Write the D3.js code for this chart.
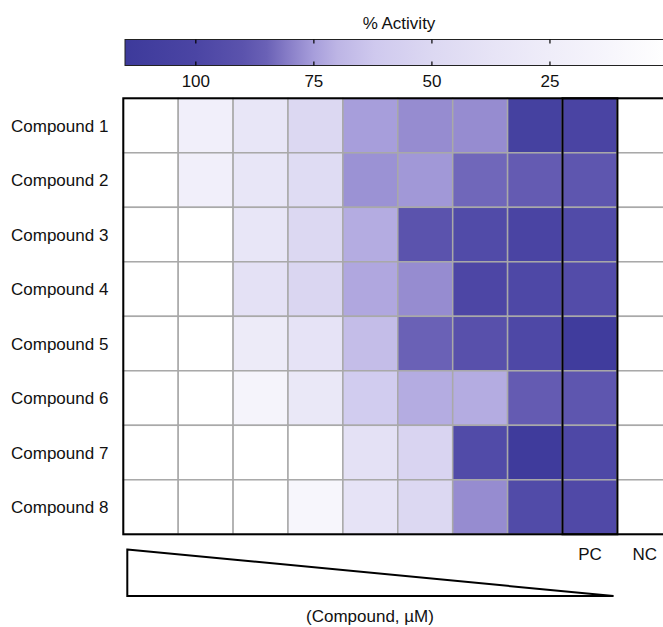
<!DOCTYPE html>
<html>
<head>
<meta charset="utf-8">
<script src="https://cdn.jsdelivr.net/npm/d3@7"></script>
<style>
  body { margin: 0; background: #fff; }
  svg { display: block; font-family: "Liberation Sans", Arial, Helvetica, sans-serif; }
</style>
</head>
<body>
<div id="chart"></div>
<script>
// rows and columns of the plate
const compounds = ['Compound 1', 'Compound 2', 'Compound 3', 'Compound 4',
                   'Compound 5', 'Compound 6', 'Compound 7', 'Compound 8'];
const columns = ['c1', 'c2', 'c3', 'c4', 'c5', 'c6', 'c7', 'c8', 'PC', 'NC'];
const columnLabels = ['', '', '', '', '', '', '', '', 'PC', 'NC'];

// % activity, one array per compound (dilution series, then PC, NC)
const activity1 = [0, 22, 35, 50, 75, 78, 78, 106, 101, 0];
const activity2 = [0, 22, 35, 46, 77, 76, 84, 87, 89, 0];
const activity3 = [0, 0, 35, 50, 72, 90, 96, 101, 96, 0];
const activity4 = [0, 0, 40, 52, 73, 78, 99, 98, 95, 0];
const activity5 = [0, 0, 28, 38, 67, 85, 92, 98, 112, 0];
const activity6 = [0, 0, 15, 32, 60, 72, 72, 87, 89, 0];
const activity7 = [0, 0, 0, 0, 40, 53, 96, 113, 98, 0];
const activity8 = [0, 0, 0, 12, 38, 50, 78, 96, 97, 0];
const activityRows = [activity1, activity2, activity3, activity4,
                      activity5, activity6, activity7, activity8];

// colour bar
const colorStops = [0, 12, 25, 37, 50, 62, 70, 75, 80, 85, 90, 100, 115];
const colorValues = ['#ffffff', '#f7f6fc', '#efedf9', '#e7e4f6', '#dcd8f2', '#cfc9ee',
                     '#bdb5e5', '#a79edb', '#8a80c9', '#6a61b6', '#5b53ad', '#4b45a4', '#3d3a9b'];
const colorTicks = [100, 75, 50, 25];
const colorDomain = [115, 0];

const WIDTH = 663, HEIGHT = 627;
const FONT = 17;

const svg = d3.select('#chart').append('svg')
    .attr('width', WIDTH)
    .attr('height', HEIGHT);

const color = d3.scaleLinear()
    .domain(colorStops)
    .range(colorValues)
    .clamp(true);

// ---- colour bar on top
const bar = { left: 125, right: 668, top: 39.5, bottom: 65.5 };
const cbX = d3.scaleLinear().domain(colorDomain).range([bar.left, bar.right]);

// stops have to go left to right, i.e. from high to low activity
const gradStops = colorStops.slice().sort((a, b) => cbX(a) - cbX(b));
const grad = svg.append('defs').append('linearGradient')
    .attr('id', 'cbar')
    .attr('gradientUnits', 'userSpaceOnUse')
    .attr('x1', bar.left).attr('x2', bar.right)
    .attr('y1', 0).attr('y2', 0);
grad.selectAll('stop')
    .data(gradStops)
    .join('stop')
    .attr('offset', d => (cbX(d) - bar.left) / (bar.right - bar.left))
    .attr('stop-color', d => color(d));

svg.append('rect')
    .attr('x', bar.left)
    .attr('y', bar.top)
    .attr('width', bar.right - bar.left)
    .attr('height', bar.bottom - bar.top)
    .attr('fill', 'url(#cbar)')
    .attr('stroke', '#222')
    .attr('stroke-width', 1);

const cbTicks = svg.append('g').attr('class', 'cb-ticks');
cbTicks.selectAll('line.top')
    .data(colorTicks)
    .join('line')
    .attr('class', 'top')
    .attr('x1', d => cbX(d)).attr('x2', d => cbX(d))
    .attr('y1', bar.top).attr('y2', bar.top + 4)
    .attr('stroke', '#000').attr('stroke-width', 1.2);
cbTicks.selectAll('line.bottom')
    .data(colorTicks)
    .join('line')
    .attr('class', 'bottom')
    .attr('x1', d => cbX(d)).attr('x2', d => cbX(d))
    .attr('y1', bar.bottom - 4).attr('y2', bar.bottom)
    .attr('stroke', '#000').attr('stroke-width', 1.2);
cbTicks.selectAll('text')
    .data(colorTicks)
    .join('text')
    .attr('x', d => cbX(d))
    .attr('y', 86.5)
    .attr('text-anchor', 'middle')
    .attr('font-size', FONT)
    .attr('fill', '#111')
    .text(d => d);

svg.append('text')
    .attr('x', 399)
    .attr('y', 29)
    .attr('text-anchor', 'middle')
    .attr('font-size', FONT)
    .attr('fill', '#111')
    .text('% Activity');

// ---- heat map
const x = d3.scaleBand()
    .domain(columns)
    .range([123.3, 123.3 + 54.9 * columns.length]);
const y = d3.scaleBand()
    .domain(compounds)
    .range([98.3, 534.3]);

const cells = [];
compounds.forEach((c, i) => {
    columns.forEach((col, j) => {
        cells.push({ compound: c, column: col, value: activityRows[i][j] });
    });
});

svg.append('g').attr('class', 'cells')
    .selectAll('rect')
    .data(cells)
    .join('rect')
    .attr('x', d => x(d.column))
    .attr('y', d => y(d.compound))
    .attr('width', x.bandwidth())
    .attr('height', y.bandwidth())
    .attr('fill', d => color(d.value))
    .attr('stroke', '#a9a9a9')
    .attr('stroke-width', 1.5);

// outer frame
svg.append('rect')
    .attr('x', x.range()[0])
    .attr('y', y.range()[0])
    .attr('width', x.range()[1] - x.range()[0])
    .attr('height', y.range()[1] - y.range()[0])
    .attr('fill', 'none')
    .attr('stroke', '#000')
    .attr('stroke-width', 2);

// positive control column box
svg.append('rect')
    .attr('x', x('PC'))
    .attr('y', y.range()[0])
    .attr('width', x.bandwidth())
    .attr('height', y.range()[1] - y.range()[0])
    .attr('fill', 'none')
    .attr('stroke', '#000')
    .attr('stroke-width', 2);

// row labels
svg.append('g').attr('class', 'row-labels')
    .selectAll('text')
    .data(compounds)
    .join('text')
    .attr('x', 11)
    .attr('y', d => y(d) + y.bandwidth() / 2)
    .attr('dy', '0.35em')
    .attr('font-size', FONT)
    .attr('fill', '#111')
    .text(d => d);

// column labels
svg.append('g').attr('class', 'col-labels')
    .selectAll('text')
    .data(columns.filter((c, i) => columnLabels[i] !== ''))
    .join('text')
    .attr('x', d => x(d) + x.bandwidth() / 2)
    .attr('y', 560)
    .attr('text-anchor', 'middle')
    .attr('font-size', FONT)
    .attr('fill', '#111')
    .text(d => columnLabels[columns.indexOf(d)]);

// concentration wedge
const wedgeLeft = x.range()[0] + 4;
const wedgeRight = x('PC') + x.bandwidth() * 0.93;
const wedge = [[wedgeLeft, 549.5], [wedgeRight, 596], [wedgeLeft, 596]];
svg.append('path')
    .attr('d', d3.line()(wedge) + 'Z')
    .attr('fill', 'none')
    .attr('stroke', '#000')
    .attr('stroke-width', 2)
    .attr('stroke-linejoin', 'miter');

svg.append('text')
    .attr('x', 370)
    .attr('y', 622)
    .attr('text-anchor', 'middle')
    .attr('font-size', FONT)
    .attr('fill', '#111')
    .text('(Compound, \u00B5M)');
</script>
</body>
</html>
